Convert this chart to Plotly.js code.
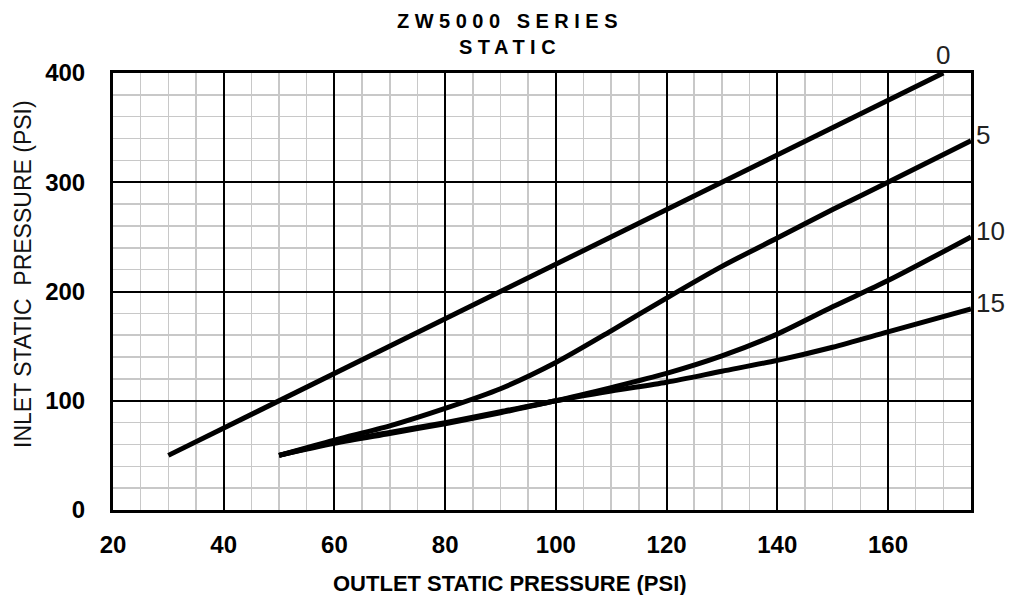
<!DOCTYPE html>
<html>
<head>
<meta charset="utf-8">
<script src="https://cdn.plot.ly/plotly-3.0.1.min.js"></script>
<style>
  html, body { margin: 0; padding: 0; background: #fff; }
  #chart { width: 1024px; height: 595px; }
  .gtitle { letter-spacing: 5.5px; }
</style>
</head>
<body>
<div id="chart"></div>
<script>
// ---- data ----
const seriesNames = ['0', '5', '10', '15'];
const outlet0 = [30, 170];
const inlet0 = [50, 400];
const outletCurve = [50, 60, 70, 80, 90, 100, 110, 120, 130, 140, 150, 160, 175];
const inlet5  = [50, 64, 77, 93, 111, 135, 164, 194, 223, 249, 275, 300, 338];
const inlet10 = [50, 62, 71, 80, 90, 100, 112, 125, 141, 161, 186, 210, 250];
const inlet15 = [50, 61, 70, 79, 89, 100, 109, 117, 127, 137, 149, 163, 184];
const xTicks = [20, 40, 60, 80, 100, 120, 140, 160];
const yTicks = [0, 100, 200, 300, 400];

const FONT = '"Liberation Sans", Arial, Helvetica, sans-serif';
const lineStyle = { color: '#000', width: 5, shape: 'spline', smoothing: 0.8 };

const xs = [outlet0, outletCurve, outletCurve, outletCurve];
const ys = [inlet0, inlet5, inlet10, inlet15];

const traces = seriesNames.map((n, i) => ({
  type: 'scatter', mode: 'lines', name: n,
  x: xs[i], y: ys[i], line: lineStyle, hoverinfo: 'skip'
}));

// series labels at the end of each line
const labelAnnots = seriesNames.map((n, i) => {
  const x = xs[i][xs[i].length - 1];
  const y = ys[i][ys[i].length - 1];
  if (i === 0) {
    return { x, y, xref: 'x', yref: 'y', text: n, showarrow: false,
      xanchor: 'center', yanchor: 'bottom', yshift: 1,
      font: { family: FONT, size: 26, color: '#222' } };
  }
  return { x, y, xref: 'x', yref: 'y', text: n, showarrow: false,
    xanchor: 'left', yanchor: 'middle', xshift: 3, yshift: 6,
    font: { family: FONT, size: 26, color: '#222' } };
});

const layout = {
  width: 1024, height: 595,
  margin: { l: 113, r: 53, t: 73, b: 85, pad: 0 },
  paper_bgcolor: '#fff', plot_bgcolor: '#fff',
  showlegend: false,
  title: {
    text: 'ZW5000 SERIES<br>STATIC',
    font: { family: FONT, size: 20, color: '#000', weight: 'bold' },
    x: 510 / 1024, xref: 'container', xanchor: 'center',
    y: 1 - 28 / 595, yref: 'container', yanchor: 'top'
  },
  xaxis: {
    range: [20, 175], tickvals: xTicks, ticktext: xTicks.map(String),
    showgrid: true, gridcolor: '#000', gridwidth: 2,
    minor: { dtick: 5, tick0: 0, showgrid: true, gridcolor: '#c8c8c8', gridwidth: 1.5 },
    showline: true, linecolor: '#000', linewidth: 3, mirror: true,
    zeroline: false, ticks: '', ticklabelstandoff: 11,
    tickfont: { family: FONT, size: 24, color: '#000', weight: 'bold' },
    fixedrange: true
  },
  yaxis: {
    range: [0, 400], tickvals: yTicks, ticktext: yTicks.map(String),
    showgrid: true, gridcolor: '#000', gridwidth: 2,
    minor: { dtick: 20, tick0: 0, showgrid: true, gridcolor: '#c8c8c8', gridwidth: 1.5 },
    showline: true, linecolor: '#000', linewidth: 3, mirror: true,
    zeroline: false, ticks: '', ticklabelstandoff: 20,
    tickfont: { family: FONT, size: 24, color: '#000', weight: 'bold' },
    fixedrange: true
  },
  annotations: labelAnnots.concat([
    { xref: 'paper', yref: 'paper', x: (510 - 113) / (1024 - 113 - 53), y: -(583 - 510) / (595 - 73 - 85),
      xanchor: 'center', yanchor: 'middle', showarrow: false,
      text: 'OUTLET STATIC PRESSURE (PSI)',
      font: { family: FONT, size: 22, color: '#000', weight: 'bold' } },
    { xref: 'paper', yref: 'paper', x: -(113 - 23) / (1024 - 113 - 53), y: (510 - 274) / (595 - 73 - 85),
      xanchor: 'center', yanchor: 'middle', showarrow: false, textangle: -90,
      text: 'INLET STATIC  PRESSURE (PSI)',
      font: { family: FONT, size: 23, color: '#111' } }
  ])
};

Plotly.newPlot('chart', traces, layout, { displayModeBar: false, staticPlot: true });
</script>
</body>
</html>
